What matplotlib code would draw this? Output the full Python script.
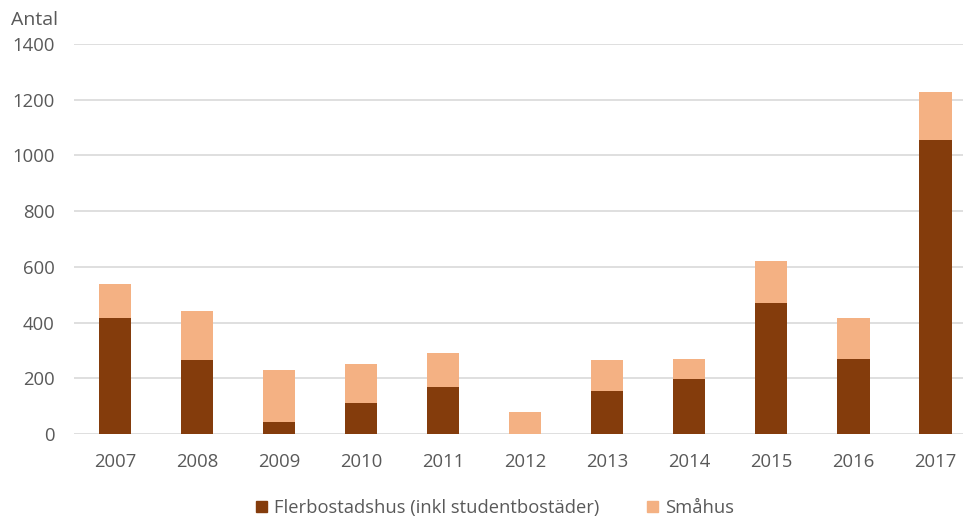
import matplotlib
matplotlib.use("Agg")
import matplotlib.pyplot as plt
from matplotlib.patches import Patch

years = ["2007", "2008", "2009", "2010", "2011", "2012", "2013", "2014", "2015", "2016", "2017"]
flerbostadshus = [415, 265, 44, 112, 168, 0, 156, 196, 472, 269, 1054]
smahus = [125, 175, 186, 140, 123, 79, 110, 74, 148, 149, 172]
yticks = [0, 200, 400, 600, 800, 1000, 1200, 1400]

dark = "#843C0C"
light = "#F4B183"
txt = "#595959"

plt.rcParams['font.family'] = ['Open Sans', 'DejaVu Sans']

fig = plt.figure(figsize=(9.63, 5.18), dpi=100)
W, H = 963, 518
x0, x1 = 74, 963
y0, y1 = 434, 44
ax = fig.add_axes([x0 / W, 1 - y0 / H, (x1 - x0) / W, (y0 - y1) / H])

x = list(range(len(years)))
ax.bar(x, flerbostadshus, width=0.4, color=dark, zorder=3)
ax.bar(x, smahus, bottom=flerbostadshus, width=0.4, color=light, zorder=3)

ax.set_ylim(0, 1400)
ax.set_xlim(-0.5, 10.34)
ax.set_yticks(yticks)
ax.set_yticklabels([str(v) for v in yticks])
ax.set_xticks(x)
ax.set_xticklabels(years)
ax.grid(axis='y', color='#D9D9D9', linewidth=1.2, zorder=0)
for s in ax.spines.values():
    s.set_visible(False)
ax.tick_params(axis='both', length=0, labelsize=13.3, labelcolor=txt)
ax.tick_params(axis='y', pad=14)
ax.tick_params(axis='x', pad=14)

fig.text(11 / W, 1 - 20 / H, "Antal", fontsize=14, color=txt, va='center', ha='left')

handles = [Patch(color=dark, label="Flerbostadshus (inkl studentbostäder)"),
           Patch(color=light, label="Småhus")]
fig.legend(handles=handles, loc='center', bbox_to_anchor=(495 / W, 1 - 508 / H), ncol=2,
           frameon=False, fontsize=13.2, labelcolor=txt, handlelength=0.6, handleheight=0.6,
           handletextpad=0.4, columnspacing=2.6)

fig.savefig("out.png", dpi=100)
